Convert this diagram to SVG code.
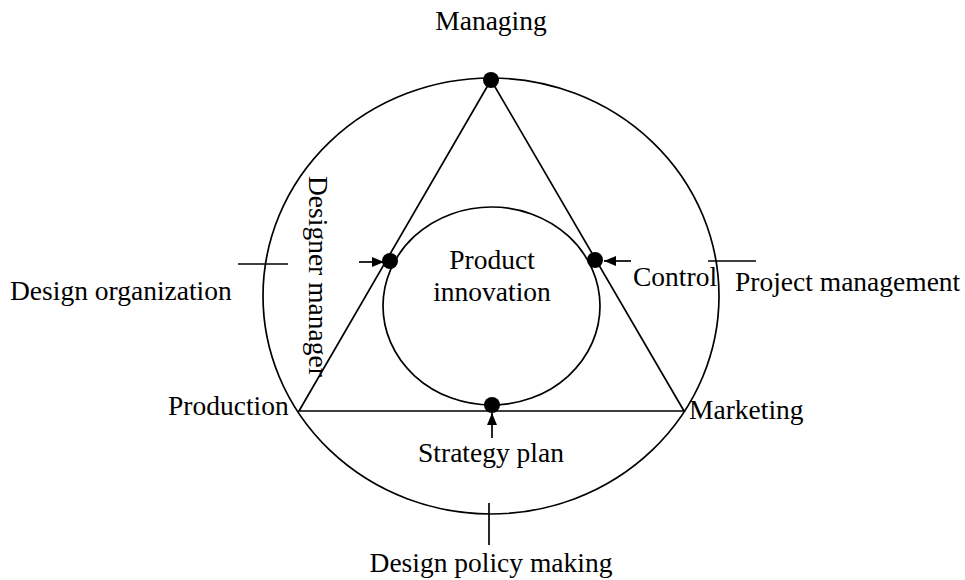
<svg xmlns="http://www.w3.org/2000/svg" width="965" height="580" viewBox="0 0 965 580">
  <style>
    .ln { fill: none; stroke: #000; stroke-width: 1.7; }
    .dot { fill: #000; }
    text { font-family: "Liberation Serif", "Times New Roman", serif; font-size: 27.5px; fill: #000; }
    .mid { text-anchor: middle; }
  </style>
  <defs>
    <marker id="head" viewBox="0 0 12 10" refX="12" refY="5" markerWidth="12" markerHeight="10" markerUnits="userSpaceOnUse" orient="auto">
      <path d="M0,0 L12,5 L0,10 Z" fill="#000"/>
    </marker>
  </defs>

  <!-- outer ring -->
  <g id="outer-ring">
    <ellipse class="ln" cx="491" cy="296" rx="228" ry="218"/>
  </g>

  <!-- triangle of management / production / marketing -->
  <g id="triangle">
    <polygon class="ln" points="491,80 299,411 684,411"/>
  </g>

  <!-- inner product innovation circle -->
  <g id="product-innovation">
    <ellipse class="ln" cx="491.5" cy="306" rx="108.5" ry="99"/>
    <text class="mid" x="492" y="269">Product</text>
    <text class="mid" x="492" y="301">innovation</text>
  </g>

  <!-- vertices and contact points -->
  <g id="dots">
    <circle class="dot" cx="491" cy="80" r="8"/>
    <circle class="dot" cx="390" cy="261" r="8"/>
    <circle class="dot" cx="595" cy="260" r="8"/>
    <circle class="dot" cx="492" cy="405" r="8"/>
  </g>

  <!-- connectors: pointers and ticks -->
  <g id="connectors">
    <line class="ln" x1="359" y1="262" x2="384" y2="262" marker-end="url(#head)"/>
    <line class="ln" x1="631" y1="261" x2="604" y2="261" marker-end="url(#head)"/>
    <line class="ln" x1="492" y1="438" x2="492" y2="413" marker-end="url(#head)"/>
    <line class="ln" x1="238" y1="264" x2="288" y2="264"/>
    <line class="ln" x1="708" y1="261" x2="756" y2="261"/>
    <line class="ln" x1="489" y1="503" x2="489" y2="545"/>
  </g>

  <!-- labels -->
  <g id="managing"><text class="mid" x="491" y="30">Managing</text></g>
  <g id="production"><text x="168" y="415">Production</text></g>
  <g id="marketing"><text x="689" y="419">Marketing</text></g>
  <g id="strategy-plan"><text class="mid" x="491" y="462">Strategy plan</text></g>
  <g id="design-policy-making"><text class="mid" x="491" y="572">Design policy making</text></g>
  <g id="design-organization"><text x="10" y="300">Design organization</text></g>
  <g id="designer-manager"><text transform="translate(309,176) rotate(90)">Designer manager</text></g>
  <g id="control"><text x="633" y="286">Control</text></g>
  <g id="project-management"><text x="735" y="291">Project management</text></g>
</svg>
